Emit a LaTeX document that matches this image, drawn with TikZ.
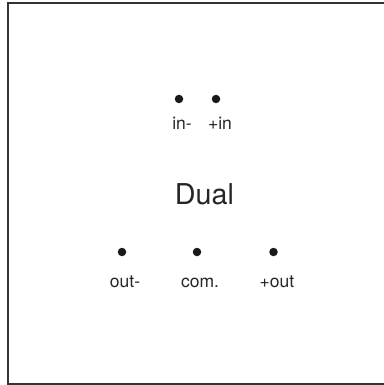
\documentclass[tikz,border=0pt]{standalone}
\usepackage{fontspec}
\setmainfont{TeX Gyre Heros}
\tikzset{
  pin dot/.style={circle,fill=black!90,inner sep=0pt,minimum size=8.5pt},
  pinlabel/.style={anchor=base,inner sep=0pt,font=\fontsize{17.5}{20}\selectfont,text=black!85},
  title/.style={anchor=base,inner sep=0pt,font=\fontsize{28.7}{32}\selectfont,text=black!85}
}
\begin{document}
\begin{tikzpicture}[x=1pt,y=-1pt]
\useasboundingbox (0,0) rectangle (383,385);
\draw[line width=2pt,black!80] (7.5,3.5) rectangle (390,383.5);
\node[pin dot] (inm) at (179,99) {};
\node[pin dot] (inp) at (216,99) {};
\node[pinlabel] (linm) at (182,129) {in-};
\node[pinlabel] (linp) at (220,129) {+in};
\node[title] (dual) at (204.5,204) {Dual};
\node[pin dot] (outm) at (122,252) {};
\node[pin dot] (com) at (197,252) {};
\node[pin dot] (outp) at (273.5,252) {};
\node[pinlabel] (loutm) at (125,287) {out-};
\node[pinlabel] (lcom) at (200,287) {com.};
\node[pinlabel] (loutp) at (277,287) {+out};
\end{tikzpicture}
\end{document}
